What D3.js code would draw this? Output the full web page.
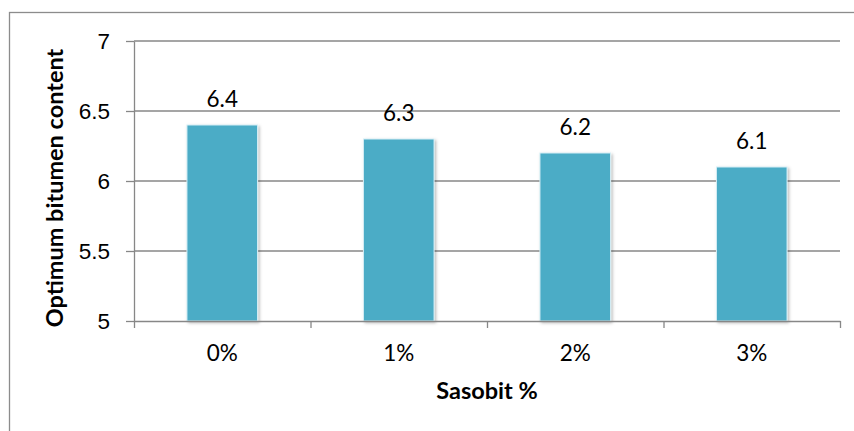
<!DOCTYPE html>
<html>
<head>
<meta charset="utf-8">
<script src="https://cdn.jsdelivr.net/npm/d3@7"></script>
<style>
  html, body { margin: 0; padding: 0; background: #fff; }
  svg { display: block; font-family: Lato, "Open Sans", sans-serif; }
  .grid line { stroke: #878787; stroke-width: 1.3; }
  .axis path, .axis line { stroke: #878787; stroke-width: 1.3; }
  .axis text { fill: #000; font-size: 22.5px; }
  .bar { fill: #4bacc6; stroke: #d6eef5; stroke-width: 1; }
  .val { font-size: 22.5px; fill: #000; text-anchor: middle; }
  .title { font-size: 23.5px; font-weight: bold; fill: #000; text-anchor: middle; }
</style>
</head>
<body>
<svg id="chart" width="854" height="431"></svg>
<script>
const categories = ['0%', '1%', '2%', '3%'];
const values     = [6.4, 6.3, 6.2, 6.1];
const yTicks     = [5, 5.5, 6, 6.5, 7];
const xTitle = 'Sasobit %';
const yTitle = 'Optimum bitumen content';

const W = 854, H = 431;
const plot = { left: 134, top: 41, right: 840, bottom: 321 };

function render() {
  const svg = d3.select('#chart');
  svg.selectAll('*').remove();

  // soft drop shadow for the bars, Excel style
  const defs = svg.append('defs');
  defs.append('filter')
    .attr('id', 'shadow')
    .attr('x', '-20%').attr('y', '-10%')
    .attr('width', '140%').attr('height', '120%')
    .append('feDropShadow')
    .attr('dx', 1.5).attr('dy', 1.5)
    .attr('stdDeviation', 1.6)
    .attr('flood-color', '#000')
    .attr('flood-opacity', 0.28);

  // chart area border (runs off the right and bottom of the picture)
  svg.append('rect')
    .attr('x', 9.5).attr('y', 12.5)
    .attr('width', W + 20).attr('height', H + 20)
    .attr('fill', 'none')
    .attr('stroke', '#8c8c8c')
    .attr('stroke-width', 1.3);

  const x = d3.scaleBand()
    .domain(categories)
    .range([plot.left, plot.right])
    .paddingInner(0.6)
    .paddingOuter(0.3);

  // category boundaries, where Excel puts its tick marks
  const xEdge = d3.scaleLinear()
    .domain([0, categories.length])
    .range([plot.left, plot.right]);

  const y = d3.scaleLinear()
    .domain([yTicks[0], yTicks[yTicks.length - 1]])
    .range([plot.bottom, plot.top]);

  // horizontal gridlines
  svg.append('g')
    .attr('class', 'grid')
    .selectAll('line')
    .data(yTicks.slice(1))
    .join('line')
    .attr('x1', plot.left).attr('x2', plot.right)
    .attr('y1', d => y(d)).attr('y2', d => y(d));

  // y axis
  svg.append('g')
    .attr('class', 'axis')
    .attr('transform', `translate(${plot.left},0)`)
    .call(d3.axisLeft(y)
      .tickValues(yTicks)
      .tickFormat(d3.format(''))
      .tickSizeInner(8)
      .tickSizeOuter(0)
      .tickPadding(16));

  // bars
  svg.append('g')
    .selectAll('rect')
    .data(values)
    .join('rect')
    .attr('class', 'bar')
    .attr('filter', 'url(#shadow)')
    .attr('x', (d, i) => x(categories[i]))
    .attr('width', x.bandwidth())
    .attr('y', d => y(d))
    .attr('height', d => y(yTicks[0]) - y(d));

  // x axis (drawn over the bar bottoms)
  const xAxis = svg.append('g')
    .attr('class', 'axis')
    .attr('transform', `translate(0,${plot.bottom})`)
    .call(d3.axisBottom(xEdge)
      .tickValues(d3.range(categories.length + 1))
      .tickFormat('')
      .tickSizeInner(7)
      .tickSizeOuter(0));
  xAxis.select('.domain').attr('stroke-width', 1.8);

  // category labels
  svg.append('g')
    .selectAll('text')
    .data(categories)
    .join('text')
    .attr('class', 'val')
    .attr('x', d => x(d) + x.bandwidth() / 2)
    .attr('y', plot.bottom + 40)
    .text(d => d);

  // value labels
  svg.append('g')
    .selectAll('text')
    .data(values)
    .join('text')
    .attr('class', 'val')
    .attr('x', (d, i) => x(categories[i]) + x.bandwidth() / 2)
    .attr('y', d => y(d) - 18)
    .text(d => d3.format('.1f')(d));

  // axis titles
  svg.append('text')
    .attr('class', 'title')
    .attr('x', (plot.left + plot.right) / 2)
    .attr('y', 399)
    .text(xTitle);

  svg.append('text')
    .attr('class', 'title')
    .attr('transform', `translate(63,188) rotate(-90)`)
    .text(yTitle);
}

render();
</script>
</body>
</html>
